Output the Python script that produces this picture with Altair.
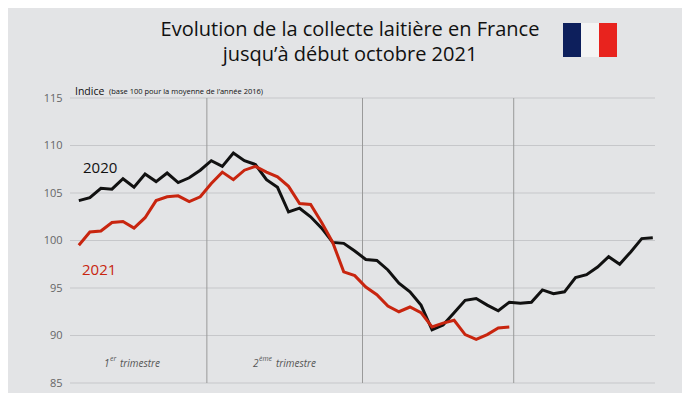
import pandas as pd
import altair as alt

v2020 = [104.2, 104.5, 105.5, 105.4, 106.5, 105.6, 107.0, 106.2, 107.1, 106.1, 106.6, 107.4,
         108.4, 107.8, 109.2, 108.4, 108.0, 106.4, 105.6, 103.0, 103.4, 102.5, 101.3, 99.8,
         99.7, 98.9, 98.0, 97.9, 96.9, 95.5, 94.6, 93.2, 90.6, 91.1, 92.4, 93.7, 93.9, 93.2,
         92.6, 93.5, 93.4, 93.5, 94.8, 94.4, 94.6, 96.1, 96.4, 97.2, 98.3, 97.5, 98.8, 100.2, 100.3]
v2021 = [99.5, 100.9, 101.0, 101.9, 102.0, 101.3, 102.4, 104.2, 104.6, 104.7, 104.1, 104.6,
         106.0, 107.2, 106.4, 107.4, 107.8, 107.2, 106.7, 105.7, 103.9, 103.8, 101.9, 99.8,
         96.7, 96.3, 95.1, 94.3, 93.1, 92.5, 93.0, 92.4, 90.9, 91.3, 91.6, 90.1, 89.6, 90.1,
         90.8, 90.9]
quarter_breaks = [12.6, 26.7, 40.4]
y_ticks = [85, 90, 95, 100, 105, 110, 115]

rows = [{"semaine": i + 1, "indice": v, "annee": "2020"} for i, v in enumerate(v2020)]
rows += [{"semaine": i + 1, "indice": v, "annee": "2021"} for i, v in enumerate(v2021)]
df = pd.DataFrame(rows)

xs = alt.Scale(domain=[0.2, 53.2], nice=False, zero=False)
ys = alt.Scale(domain=[85, 115], nice=False, zero=False)
font = "Open Sans"

grid = alt.Chart(pd.DataFrame({"g": y_ticks, "a": [0.2] * 7, "b": [53.2] * 7})).mark_rule(
    color="#c6c7ca", strokeWidth=1
).encode(
    y=alt.Y("g:Q", scale=ys, axis=alt.Axis(values=y_ticks, domain=False, ticks=False, grid=False, title=None,
                                           labelColor="#666", labelFontSize=11, labelFont=font, labelPadding=8)),
    x=alt.X("a:Q", scale=xs, axis=None), x2="b:Q",
)

lines = alt.Chart(df).mark_line(strokeWidth=3).encode(
    x=alt.X("semaine:Q", scale=xs, axis=None),
    y=alt.Y("indice:Q", scale=ys, axis=None),
    color=alt.Color("annee:N", scale=alt.Scale(domain=["2020", "2021"], range=["#111111", "#c8250f"]),
                    legend=None),
)

rules = alt.Chart(pd.DataFrame({"q": quarter_breaks, "lo": [85] * 3, "hi": [115] * 3})).mark_rule(
    color="#9a9a9a", strokeWidth=1
).encode(x=alt.X("q:Q", scale=xs, axis=None), y=alt.Y("lo:Q", scale=ys, axis=None), y2="hi:Q")

def txt(text, x, y, size, color="#111", **kw):
    return alt.Chart(pd.DataFrame({"t": [text], "px": [x], "py": [y]})).mark_text(
        fontSize=size, color=color, font=font, **kw
    ).encode(text="t:N", x=alt.X("px:Q", scale=None, axis=None), y=alt.Y("py:Q", scale=None, axis=None))

def rect(x, x2, color):
    return alt.Chart(pd.DataFrame({"a": [x], "b": [x2], "c": [-75], "d": [-41]})).mark_rect(color=color).encode(
        x=alt.X("a:Q", scale=None, axis=None), x2="b:Q", y=alt.Y("c:Q", scale=None, axis=None), y2="d:Q"
    )

q = dict(color="#555", align="left", fontStyle="italic")
deco = [
    txt("Evolution de la collecte laitière en France", 280, -68, 20),
    txt("jusqu’à début octobre 2021", 280, -43, 20),
    rect(493, 511, "#0d1f5c"), rect(511, 529, "#f4f4f4"), rect(529, 547, "#e8231e"),
    txt("Indice", 5, -6, 10.5, align="left"),
    txt("(base 100 pour la moyenne de l’année 2016)", 39, -6, 7.5, align="left"),
    txt("2020", 13, 70, 15, align="left"),
    txt("2021", 12, 172, 15, color="#c8250f", align="left"),
    txt("1", 34, 266, 10, **q), txt("er", 40, 261, 7, **q), txt("trimestre", 50, 266, 10, **q),
    txt("2", 183, 266, 10, **q), txt("ème", 189, 261, 7, **q), txt("trimestre", 206, 266, 10, **q),
]

chart = alt.layer(grid, rules, lines, *deco).resolve_scale(x="independent", y="independent").properties(
    width=585, height=285,
    padding={"left": 62, "top": 90, "right": 27, "bottom": 10},
    autosize=alt.AutoSizeParams(type="none"),
    background="#e3e4e6",
).configure_view(stroke=None)

chart.save("out.html", embed_options={"renderer": "svg", "actions": False})
